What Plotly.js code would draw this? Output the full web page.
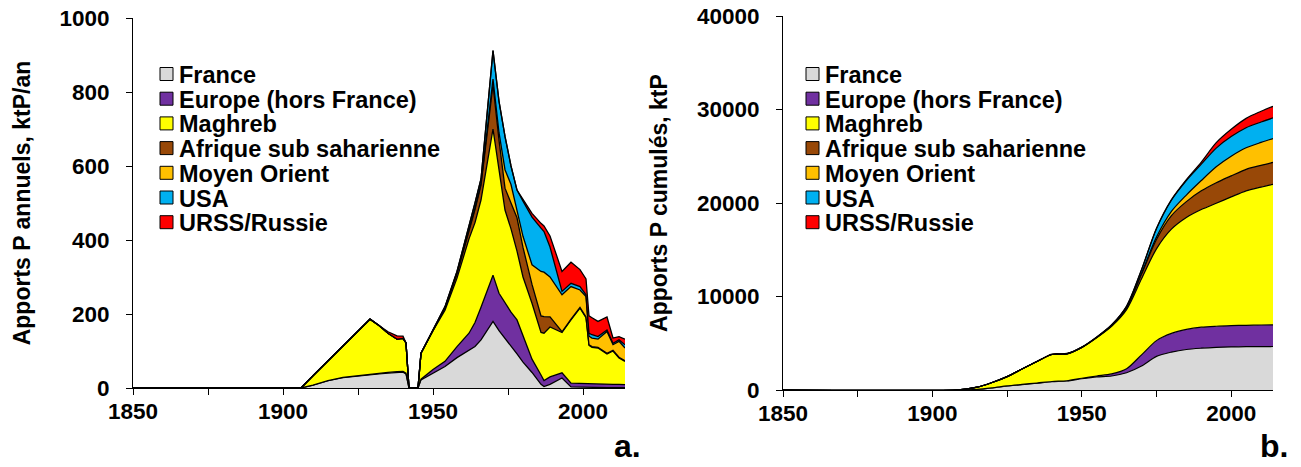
<!DOCTYPE html>
<html><head><meta charset="utf-8">
<script src="https://cdn.plot.ly/plotly-3.0.1.min.js"></script>
<style>html,body{margin:0;padding:0;background:#fff}#chart{width:1301px;height:467px}</style>
</head><body><div id="chart"></div>
<script>
// ---------- DATA ----------
const seriesNames = ["France", "Europe (hors France)", "Maghreb", "Afrique sub saharienne", "Moyen Orient", "USA", "URSS/Russie"];

// (a) annual inputs, ktP/an
const yearsA = [1850,1906,1910,1915,1920,1925,1929,1932,1935,1938,1940,1941,1942,1944,1945,1946,1950,1954,1958,1962,1964,1966,1968,1970,1972,1974,1976,1978,1980,1983,1986,1987,1989,1993,1996,1999,2001,2002,2003,2005,2008,2010,2012,2014];
const franceA  = [0,0,8,20,28,33,36,38,40,42,43,38,0,0,0,22,40,58,82,103,112,130,155,180,155,135,115,92,70,42,10,4,10,27,3,2,2,2,2,1,1,1,1,1];
const europeA  = [0,0,0,0,1,1,2,2,2,2,2,2,0,0,0,2,10,14,30,45,65,88,107,125,101,94,90,92,70,36,25,16,20,14,10,10,10,10,10,10,10,9,9,8];
const maghrebA = [0,0,25,53,84,120,148,129,106,88,89,82,0,0,0,70,105,138,185,255,270,290,340,395,334,252,225,186,160,151,115,128,135,109,171,204,178,103,98,97,81,90,71,63];
const afriqueA = [0,0,0,0,0,0,0,0,0,0,0,0,0,0,0,0,2,6,12,20,35,40,90,120,80,59,70,90,80,51,45,45,27,2,2,2,2,2,2,2,2,2,2,2];
const moyenA   = [0,0,0,0,0,0,0,0,0,0,0,0,0,0,0,0,0,1,2,3,5,5,10,15,20,50,50,20,30,53,120,120,108,100,88,47,55,23,23,22,59,15,43,34];
const usaA     = [0,0,0,0,0,0,0,0,0,0,0,0,0,0,0,0,0,3,4,10,13,12,28,77,85,90,50,55,95,129,117,110,81,9,9,9,5,8,9,7,4,4,4,9];
const urssA    = [0,0,0,0,0,0,0,0,4,9,6,0,0,0,0,0,0,0,0,0,0,0,0,0,0,0,0,0,5,10,13,15,30,54,57,46,43,47,46,41,35,14,9,15];

// (b) cumulative inputs, ktP
const yearsB = [1850,1908,1915,1920,1925,1930,1935,1940,1945,1950,1955,1960,1965,1970,1975,1980,1985,1990,1995,2000,2005,2010,2014];
const franceB  = [0,0,60,220,430,580,720,880,960,1200,1400,1500,1850,2560,3600,4050,4330,4470,4560,4610,4630,4640,4650];
const europeB  = [0,0,0,5,10,20,25,30,30,60,100,220,420,1200,1680,2000,2150,2250,2260,2270,2290,2310,2320];
const maghrebB = [0,0,240,575,990,1650,2305,2890,2880,3290,4100,5100,6330,8140,9820,11150,11970,12580,13150,13770,14380,14750,15030];
const afriqueB = [0,0,0,0,0,0,0,0,0,10,30,80,200,500,1000,1450,1700,2000,2200,2250,2300,2330,2350];
const moyenB   = [0,0,0,0,0,0,0,0,0,0,0,10,30,100,250,450,700,1100,1700,2100,2300,2450,2540];
const usaB     = [0,0,0,0,0,0,0,0,0,0,10,40,120,350,900,1200,1550,1750,2000,2100,2150,2180,2210];
const urssB    = [0,0,0,0,0,0,10,40,40,40,40,40,40,40,50,60,100,230,580,780,1000,1150,1250];

const xTickVals = [1850,1875,1900,1925,1950,1975,2000];
const xTickText = ["1850","","1900","","1950","","2000"];
const titleA = "Apports P annuels, ktP/an";
const titleB = "Apports P cumulés, ktP";

// ---------- STYLE ----------
const colors = ["#D9D9D9","#7030A0","#FFFF00","#984807","#FFC000","#00B0F0","#FF0000"];
const W = 1301, H = 467;
const FONT = "Liberation Sans, Arial, sans-serif";

const seriesA = [franceA, europeA, maghrebA, afriqueA, moyenA, usaA, urssA];
const seriesB = [franceB, europeB, maghrebB, afriqueB, moyenB, usaB, urssB];

const traces = [];
seriesA.forEach((vals, i) => traces.push({
  type: "scatter", mode: "lines", x: yearsA, y: vals, name: seriesNames[i],
  stackgroup: "a", xaxis: "x", yaxis: "y", showlegend: false,
  line: {color: "#000", width: 1.3}, fillcolor: colors[i]
}));
seriesB.forEach((vals, i) => traces.push({
  type: "scatter", mode: "lines", x: yearsB, y: vals, name: seriesNames[i],
  stackgroup: "b", xaxis: "x2", yaxis: "y2", showlegend: false,
  line: {color: "#000", width: 1.2, shape: "spline", smoothing: 0.8}, fillcolor: colors[i]
}));

const px = v => v / W, py = v => 1 - v / H;

function xAxis(l, r) {
  return {domain: [px(l), px(r)], range: [1850, 2014], tickvals: xTickVals, ticktext: xTickText,
    showline: true, linecolor: "#000", linewidth: 1, ticks: "outside", ticklen: 6, tickcolor: "#000",
    showgrid: false, zeroline: false, fixedrange: true, ticklabelstandoff: -3,
    tickfont: {family: FONT, size: 22.5, color: "#000", weight: "bold"}};
}
function yAxis(top, bottom, rng, dtick, title, anchor) {
  return {domain: [py(bottom), py(top)], range: rng, dtick: dtick, tick0: 0, tickformat: "d",
    showline: true, linecolor: "#000", linewidth: 1, ticks: "outside", ticklen: 6, tickcolor: "#000",
    showgrid: false, zeroline: false, fixedrange: true, anchor: anchor, ticklabelstandoff: 12,
    tickfont: {family: FONT, size: 22.5, color: "#000", weight: "bold"},
    title: {text: title, standoff: 22, font: {family: FONT, size: 23, color: "#000", weight: "bold"}}};
}

const shapes = [], annotations = [];
const rowY = [74, 98.7, 123.4, 148.1, 172.8, 197.5, 222.2];
[[160, 177], [806, 823]].forEach(([sx, tx]) => {
  seriesNames.forEach((n, i) => {
    shapes.push({type: "rect", xref: "paper", yref: "paper",
      x0: px(sx), x1: px(sx + 13), y0: py(rowY[i] + 6.5), y1: py(rowY[i] - 6.5),
      fillcolor: colors[i], line: {color: "#000", width: 1}});
    annotations.push({xref: "paper", yref: "paper", x: px(tx), y: py(rowY[i] + 1), xanchor: "left", yanchor: "middle",
      text: n, showarrow: false, font: {family: FONT, size: 23.5, color: "#000", weight: "bold"}});
  });
});
annotations.push({xref: "paper", yref: "paper", x: px(627), y: py(446), xanchor: "center", yanchor: "middle",
  text: "a.", showarrow: false, borderpad: 0, font: {family: FONT, size: 32, color: "#000", weight: "bold"}});
annotations.push({xref: "paper", yref: "paper", x: px(1274), y: py(446), xanchor: "center", yanchor: "middle",
  text: "b.", showarrow: false, borderpad: 0, font: {family: FONT, size: 32, color: "#000", weight: "bold"}});

const layout = {
  width: W, height: H, margin: {l: 0, r: 0, t: 0, b: 0},
  paper_bgcolor: "#fff", plot_bgcolor: "rgba(0,0,0,0)", showlegend: false,
  font: {family: FONT, color: "#000"},
  xaxis: Object.assign(xAxis(133, 625), {anchor: "y"}),
  yaxis: yAxis(18, 388, [0, 1000], 200, titleA, "x"),
  xaxis2: Object.assign(xAxis(783, 1273), {anchor: "y2"}),
  yaxis2: yAxis(16, 390, [0, 40000], 10000, titleB, "x2"),
  shapes: shapes, annotations: annotations
};
Plotly.newPlot("chart", traces, layout, {staticPlot: true, displayModeBar: false});
</script>
</body></html>
